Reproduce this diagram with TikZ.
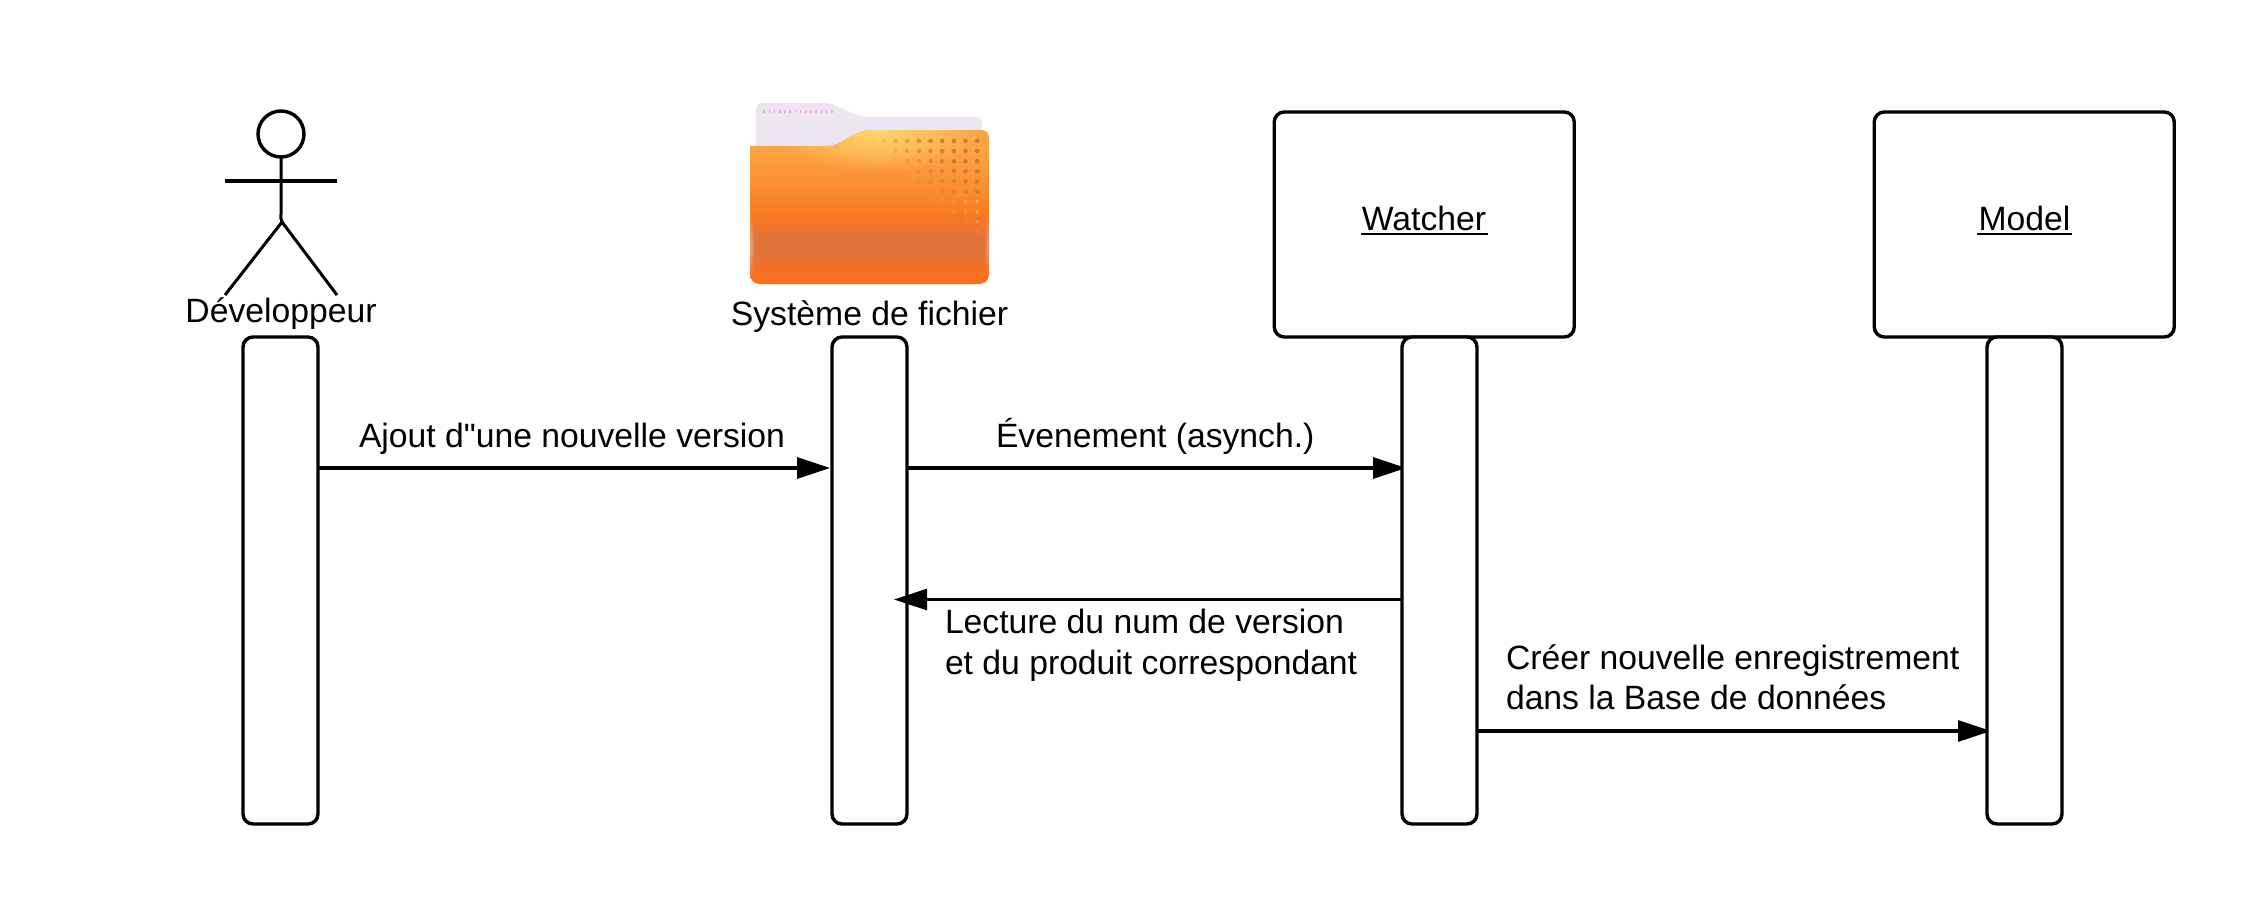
\documentclass[tikz,border=0pt]{standalone}
\usepackage{fontspec}
\setmainfont[Ligatures=TeXOff]{Liberation Sans}
\usetikzlibrary{arrows.meta,fadings,calc}
\pgfdeclarelayer{behind}
\pgfsetlayers{behind,main}
\newcommand{\undertext}[1]{\setbox0=\hbox{#1}\leavevmode\rlap{\kern-0.7pt\rule[-2.6pt]{\dimexpr\wd0+1.4pt\relax}{1.25pt}}\box0 }
\definecolor{paperc}{HTML}{ECE6F0}
\definecolor{foldtop}{HTML}{FDA545}
\definecolor{foldmid}{HTML}{F97A20}
\definecolor{foldlow}{HTML}{E2743A}
\definecolor{foldbot}{HTML}{FB6F1E}
\definecolor{foldhi}{HTML}{FDD870}
\definecolor{folddot}{HTML}{B9742A}
\pgfdeclareverticalshading{foldshade}{100bp}{
  color(0bp)=(foldbot);
  color(29bp)=(foldbot);
  color(37.5bp)=(foldlow);
  color(41bp)=(foldlow);
  color(48.3bp)=(foldmid);
  color(56bp)=(foldmid!55!foldtop);
  color(68.6bp)=(foldtop);
  color(100bp)=(foldtop)}
\tikzfading[name=softspot,inner color=transparent!0,outer color=transparent!100]
\tikzset{
  lbl/.style={inner sep=0pt,outer sep=0pt,font=\fontsize{16.85}{20}\selectfont,text=black,align=left},
  objbox/.style={draw=black,fill=white,line width=1.7pt,rounded corners=5pt,minimum width=150pt,minimum height=112.5pt,inner sep=0pt,outer sep=0pt},
  lifebar/.style={draw=black,fill=white,line width=1.7pt,rounded corners=5pt,minimum width=37.5pt,minimum height=243.5pt,inner sep=0pt,outer sep=0pt},
  msg/.style={draw=black,line width=1.6pt,-{Triangle[length=16.5pt,width=10.5pt]}},
  actorline/.style={draw=black,line width=1.5pt},
}
\begin{document}
\begin{tikzpicture}[x=0.5pt,y=-0.5pt]
\useasboundingbox (0,0) rectangle (2250,900);

% actor
\node[circle,draw=black,line width=1.7pt,minimum size=23pt,inner sep=0pt,outer sep=0pt] (head) at (281,134) {};
\coordinate (armL) at (225,181);
\coordinate (armR) at (337,181);
\coordinate (neck) at (281,181);
\coordinate (hip) at (282,222);
\coordinate (footL) at (225,295);
\coordinate (footR) at (337,295);
\draw[actorline,line width=2pt] (armL) -- (armR);
\draw[actorline] (head.south) -- (neck) -- (281,214) to[out=270,in=120] (hip);
\draw[actorline] (footL) -- (hip) -- (footR);
\node[lbl,anchor=base] (devlbl) at (281,322) {Développeur};

% folder (scene drawn directly)
\fill[paperc] (756,150) -- (756,110) .. controls (756,105) and (758,103) .. (763,103) -- (828,103) .. controls (840,105) and (852,117) .. (870,117) -- (976,117) .. controls (980,117) and (982,119) .. (982,123) -- (982,150) -- cycle;
\foreach \i in {0,...,13} {
  \fill[red!22!paperc] ({764+\i*5.2-0.7},109.5) rectangle ({764+\i*5.2+0.9},112.5);
}
\begin{scope}
  \clip (750,274) -- (750,146) -- (825,146) .. controls (845,146) and (850,130) .. (872,130) -- (981,130) .. controls (986,130) and (989,133) .. (989,138) -- (989,274) .. controls (989,280) and (985,284) .. (979,284) -- (760,284) .. controls (754,284) and (750,280) .. (750,274) -- cycle;
  \shade[shading=foldshade] (745,125) rectangle (995,290);
  \fill[foldhi,path fading=softspot] (878,130) ellipse [x radius=100,y radius=42];
  \fill[white,opacity=.4,path fading=softspot] (749,245) ellipse [x radius=6,y radius=34];
  \fill[white,opacity=.4,path fading=softspot] (990,245) ellipse [x radius=6,y radius=34];
  \foreach \r in {0,...,9} {
    \foreach \c in {0,...,9} {
      \pgfmathsetmacro{\op}{max(0,min(0.75,(\c-\r*0.95+0.4)*0.13))}
      \ifdim\op pt>0pt
        \ifnum\r>5
          \fill[foldhi,opacity=\op] ({872+\c*11.7},{141+\r*10.1}) circle [radius=2];
        \else
          \fill[folddot,opacity=\op] ({872+\c*11.7},{141+\r*10.1}) circle [radius=2.3];
        \fi
      \fi
    }
  }
\end{scope}
\node[lbl,anchor=base] (fslbl) at (869.5,325) {Système de fichier};

% objects
\node[objbox] (watcher) at (1424.25,224.5) {};
\node[objbox] (model) at (2024.25,224.5) {};
\node[lbl,anchor=base] (watcherlbl) at (1424,230) {\undertext{Watcher}};
\node[lbl,anchor=base] (modellbl) at (2024.5,230) {\undertext{Model}};

% lifelines
\node[lifebar] (la) at (280.5,580.5) {};
\node[lifebar] (lb) at (869.5,580.5) {};
\node[lifebar] (lc) at (1439.5,580.5) {};
\node[lifebar] (ld) at (2024.5,580.5) {};

% messages
\coordinate (ya) at (0,468);
\coordinate (yb) at (0,599.5);
\coordinate (yc) at (0,731);
\coordinate (tipb) at (894,599.5);
\begin{pgfonlayer}{behind}
  \draw[msg,shorten >=1pt] (la.east |- ya) -- (lb.west |- ya);
  \draw[msg,shorten >=-2pt] (lb.east |- ya) -- (lc.west |- ya);
  \draw[msg,shorten >=-2pt] (lc.east |- yc) -- (ld.west |- yc);
\end{pgfonlayer}
\draw[msg,line width=1.4pt] (lc.west |- yb) -- (tipb);

% labels
\node[lbl,anchor=base west] (m1) at (359,447) {Ajout d"une nouvelle version};
\node[lbl,anchor=base west] (m2) at (996,447) {Évenement (asynch.)};
\node[lbl,anchor=base west] (m3a) at (945,633) {Lecture du num de version};
\node[lbl,anchor=base west] (m3b) at (945,674) {et du produit correspondant};
\node[lbl,anchor=base west] (m4a) at (1506,669) {Créer nouvelle enregistrement};
\node[lbl,anchor=base west] (m4b) at (1506,709) {dans la Base de données};
\end{tikzpicture}
\end{document}
